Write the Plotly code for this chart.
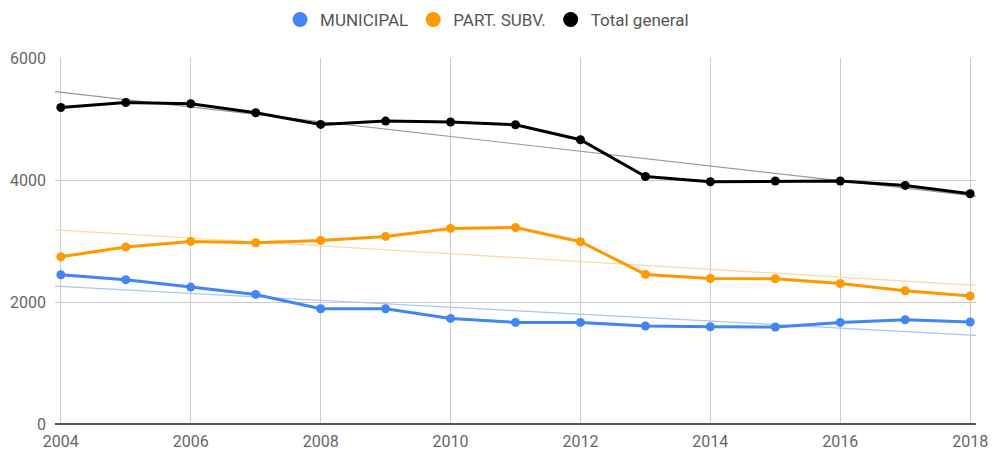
import numpy as np
import plotly.graph_objects as go

years = list(range(2004, 2019))
municipal = [2447, 2365, 2245, 2124, 1890, 1890, 1731, 1665, 1665, 1606, 1595, 1590, 1665, 1709, 1672]
part_subv = [2742, 2901, 2993, 2972, 3009, 3075, 3206, 3222, 2988, 2452, 2386, 2381, 2304, 2185, 2098]
total = [5189, 5271, 5250, 5102, 4911, 4966, 4950, 4905, 4660, 4058, 3971, 3983, 3983, 3911, 3775]

series = [
    ("MUNICIPAL", municipal, "#4285f4", "#a9c4f6"),
    ("PART. SUBV.", part_subv, "#ff9900", "#fdd7a0"),
    ("Total general", total, "#000000", "#9a9a9a"),
]

x_range = [2003.91, 2018.09]

fig = go.Figure()

# linear trendlines first so they sit under the data
for name, vals, color, trend_color in series:
    slope, icpt = np.polyfit(years, vals, 1)
    fig.add_trace(go.Scatter(
        x=x_range,
        y=[slope * x + icpt for x in x_range],
        mode="lines",
        line=dict(color=trend_color, width=1.2),
        showlegend=False,
        hoverinfo="skip",
    ))

for name, vals, color, trend_color in series:
    fig.add_trace(go.Scatter(
        x=years,
        y=vals,
        name=name,
        mode="lines+markers",
        line=dict(color=color, width=3),
        marker=dict(color=color, size=9),
        showlegend=False,
    ))
    # legend entry: just a dot, like the original
    fig.add_trace(go.Scatter(
        x=[None],
        y=[None],
        name=name,
        mode="markers",
        marker=dict(color=color, size=15),
    ))

fig.update_layout(
    width=992,
    height=452,
    margin=dict(l=55, r=16, t=58, b=28),
    paper_bgcolor="white",
    plot_bgcolor="white",
    font=dict(family="Roboto", size=16, color="#666666"),
    legend=dict(
        orientation="h",
        x=0.491,
        xanchor="center",
        xref="container",
        y=1 - 20 / 452,
        yanchor="middle",
        yref="container",
        font=dict(size=17, color="#555555"),
        itemsizing="trace",
        itemwidth=30,
    ),
)
fig.update_xaxes(
    range=x_range,
    tickvals=[2004, 2006, 2008, 2010, 2012, 2014, 2016, 2018],
    showgrid=True,
    gridcolor="#cccccc",
    gridwidth=1,
    zeroline=False,
    showline=False,
    ticks="",
    ticklabelstandoff=6,
    automargin=False,
)
fig.update_yaxes(
    range=[0, 6000],
    tickvals=[0, 2000, 4000, 6000],
    showgrid=True,
    gridcolor="#cccccc",
    gridwidth=1,
    zeroline=True,
    zerolinecolor="#555555",
    zerolinewidth=1.5,
    ticks="",
    ticklabelstandoff=8,
    automargin=False,
)

# drop the default body margin so the chart sits at the page corner
fig.write_html(
    "out.html",
    config={"displayModeBar": False},
    post_script="document.body.style.margin='0';",
)
